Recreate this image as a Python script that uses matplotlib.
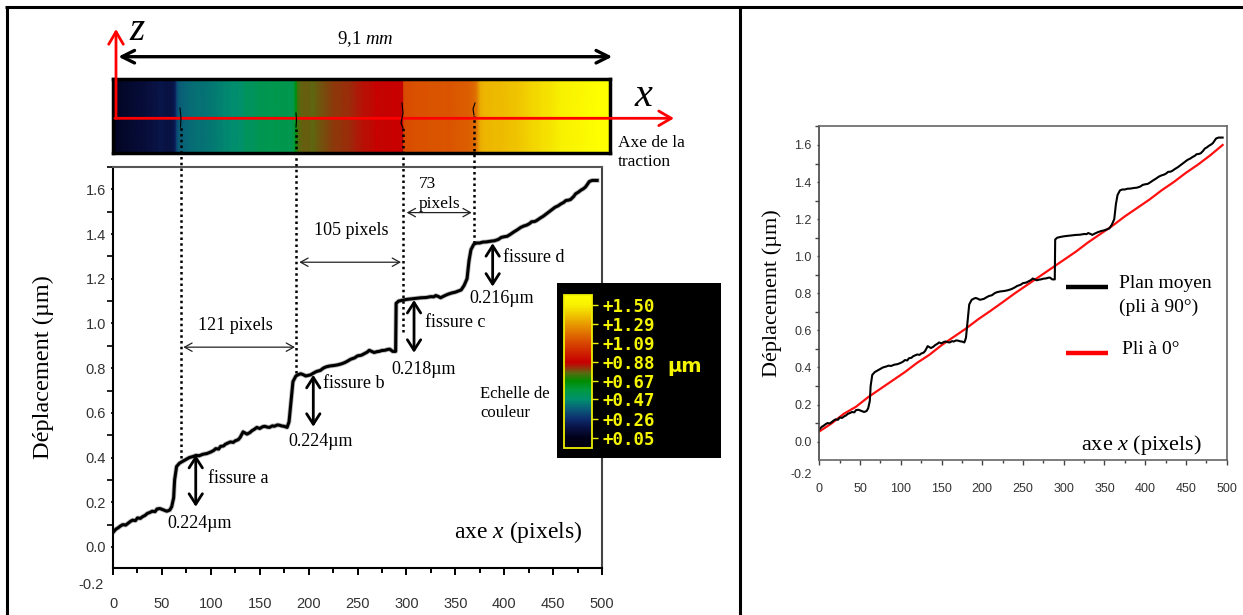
import numpy as np
import matplotlib
matplotlib.use('Agg')
import matplotlib.pyplot as plt
from matplotlib.colors import LinearSegmentedColormap, Normalize
from matplotlib.patches import FancyArrowPatch, Rectangle
from matplotlib.transforms import blended_transform_factory
from matplotlib.ticker import MultipleLocator
from matplotlib.cm import ScalarMappable

# ---------------- data ----------------
# mean displacement profile along x (pixels) -- "Plan moyen (pli à 90°)"
pos_x = [0, 3, 5, 8, 10, 13, 15, 18, 20, 23, 25, 28, 30, 33, 35, 38, 40, 43, 45, 48,
         52, 55, 58, 60, 62, 63, 65, 68, 72, 75, 78, 82, 85, 88, 92, 96, 100, 103,
         105, 108, 110, 113, 115, 118, 120, 123, 125, 128, 130, 133, 137, 140, 142,
         145, 147, 150, 153, 155, 158, 160, 163, 165, 168, 170, 173, 175, 178, 180,
         182, 184, 187, 190, 192, 195, 197, 200, 202, 205, 208, 212, 215, 218, 222,
         226, 230, 234, 237, 240, 243, 247, 250, 254, 257, 260, 262, 265, 267, 270,
         272, 275, 278, 281, 283, 286, 289, 289.5, 292, 297, 301, 305, 310, 315, 320,
         325, 328, 330, 333, 335, 338, 342, 346, 350, 353, 356, 359, 362, 364, 366,
         369, 372, 375, 378, 382, 386, 390, 394, 397, 400, 403, 406, 410, 413, 417,
         420, 423, 426, 428, 431, 433, 437, 440, 443, 446, 449, 452, 455, 458, 461,
         463, 466, 468, 471, 473, 476, 478, 481, 483, 485, 487, 490, 495]
pos_y = [0.065, 0.080, 0.085, 0.095, 0.100, 0.098, 0.105, 0.115, 0.120, 0.118, 0.130,
         0.128, 0.135, 0.142, 0.150, 0.155, 0.160, 0.158, 0.170, 0.172, 0.165, 0.160,
         0.165, 0.180, 0.220, 0.300, 0.360, 0.375, 0.385, 0.392, 0.400, 0.405, 0.410,
         0.408, 0.415, 0.418, 0.425, 0.432, 0.440, 0.438, 0.450, 0.452, 0.460, 0.466,
         0.470, 0.468, 0.475, 0.480, 0.490, 0.515, 0.505, 0.512, 0.520, 0.528, 0.535,
         0.530, 0.538, 0.540, 0.536, 0.535, 0.542, 0.540, 0.546, 0.545, 0.541, 0.540,
         0.535, 0.560, 0.650, 0.740, 0.765, 0.772, 0.775, 0.770, 0.765, 0.768, 0.770,
         0.778, 0.785, 0.790, 0.800, 0.806, 0.810, 0.812, 0.815, 0.820, 0.825, 0.832,
         0.840, 0.846, 0.855, 0.858, 0.865, 0.872, 0.880, 0.874, 0.870, 0.874, 0.875,
         0.879, 0.880, 0.884, 0.885, 0.875, 0.875, 1.090, 1.100, 1.105, 1.108, 1.110,
         1.112, 1.115, 1.116, 1.120, 1.119, 1.125, 1.120, 1.115, 1.122, 1.130, 1.136,
         1.140, 1.145, 1.150, 1.170, 1.200, 1.280, 1.330, 1.355, 1.360, 1.360, 1.364,
         1.365, 1.368, 1.370, 1.376, 1.385, 1.388, 1.390, 1.398, 1.410, 1.418, 1.430,
         1.436, 1.440, 1.447, 1.455, 1.456, 1.460, 1.472, 1.480, 1.490, 1.500, 1.510,
         1.520, 1.526, 1.535, 1.542, 1.550, 1.552, 1.555, 1.568, 1.580, 1.588, 1.595,
         1.603, 1.610, 1.622, 1.635, 1.640, 1.640]

# 0° ply displacement profile -- "Pli à 0°"
red_x = [0, 15, 30, 45, 60, 75, 90, 105, 120, 135, 150, 165, 180, 195, 210, 225, 240,
         255, 270, 285, 300, 315, 330, 345, 360, 375, 390, 405, 420, 435, 450, 465,
         480, 495]
red_y = [0.055, 0.098, 0.150, 0.188, 0.240, 0.285, 0.330, 0.375, 0.425, 0.468, 0.520,
         0.565, 0.610, 0.660, 0.705, 0.752, 0.800, 0.845, 0.890, 0.935, 0.980, 1.025,
         1.075, 1.120, 1.165, 1.215, 1.260, 1.305, 1.355, 1.400, 1.450, 1.495, 1.545,
         1.600]

crack_x = [70, 187, 297, 369.5]
crack_top = [1.88, 1.88, 1.88, 1.93]
crack_bottom = [0.40, 0.78, 0.96, 1.36]
crack_names = ['fissure a', 'fissure b', 'fissure c', 'fissure d']
jump_x = [84.6, 204.8, 307.8, 388.2]
jump_lo = [0.18, 0.538, 0.869, 1.165]
jump_hi = [0.412, 0.77, 1.105, 1.359]
jump_labels = ['0.224µm', '0.224µm', '0.218µm', '0.216µm']
gap_labels = ['121 pixels', '105 pixels']

x_ticks = [0, 50, 100, 150, 200, 250, 300, 350, 400, 450, 500]
y_ticks = [0.0, 0.2, 0.4, 0.6, 0.8, 1.0, 1.2, 1.4, 1.6]
cbar_ticks = [0.05, 0.26, 0.47, 0.67, 0.88, 1.09, 1.29, 1.50]
cbar_labels = ['+0.05', '+0.26', '+0.47', '+0.67', '+0.88', '+1.09', '+1.29', '+1.50']

# ---------------- setup ----------------
W, H = 1243, 615
SERIF = 'Liberation Serif'
SANS = 'Liberation Sans'
plt.rcParams['font.family'] = [SERIF, 'DejaVu Sans']
plt.rcParams['mathtext.fontset'] = 'custom'
plt.rcParams['mathtext.rm'] = 'Liberation Serif'
plt.rcParams['mathtext.it'] = 'Liberation Serif:italic'
fig = plt.figure(figsize=(W / 100, H / 100), dpi=100, facecolor='white')


def rect(x0, y0, x1, y1):
    return [x0 / W, 1 - y1 / H, (x1 - x0) / W, (y1 - y0) / H]


vmin, vmax = -0.06, 1.61
nodes = [(-0.06, '#000010'), (0.05, '#000018'), (0.15, '#081040'), (0.26, '#0c2e6e'),
         (0.36, '#0a5a78'), (0.47, '#00906e'), (0.57, '#009a40'), (0.67, '#008c00'),
         (0.76, '#5a6a10'), (0.84, '#b01808'), (0.88, '#c80000'), (1.00, '#d02800'),
         (1.09, '#d84800'), (1.29, '#e89800'), (1.40, '#f0c800'), (1.50, '#f8f000'),
         (1.61, '#ffff00')]
cmap = LinearSegmentedColormap.from_list(
    'disp', [((v - vmin) / (vmax - vmin), c) for v, c in nodes])
norm = Normalize(vmin, vmax)

# ---------------- colour strip ----------------
axS = fig.add_axes(rect(113.3, 79, 610, 153.3))
axS.pcolormesh(pos_x, [0, 1], np.vstack([pos_y, pos_y]), cmap=cmap, norm=norm,
               shading='gouraud')
axS.set_xlim(0, 495)
axS.set_ylim(0, 1)
axS.set_xticks([])
axS.set_yticks([])
for s in axS.spines.values():
    s.set_linewidth(2.5)
    s.set_color('black')

# ---------------- left plot ----------------
axL = fig.add_axes(rect(113, 167, 602, 568))
axL.plot(pos_x, pos_y, color='#8a8a8a', lw=3.4, alpha=0.6, solid_joinstyle='round')
axL.plot(pos_x, pos_y, color='black', lw=2.2, solid_joinstyle='round')
axL.set_xlim(0, 500)
axL.set_ylim(-0.094, 1.70)
axL.set_xticks(x_ticks)
axL.xaxis.set_minor_locator(MultipleLocator(25))
axL.set_yticks(y_ticks)
axL.set_yticklabels([f'{v:.1f}' for v in y_ticks])
axL.yaxis.set_minor_locator(MultipleLocator(0.1))
axL.tick_params(axis='x', which='major', length=5, width=1.4, pad=16, labelsize=10.5,
                labelcolor='#333333')
axL.tick_params(axis='x', which='minor', length=3.6, width=1.4)
axL.tick_params(axis='y', which='major', length=1.5, width=1.2, pad=3.5, labelsize=10.5,
                labelcolor='#333333')
axL.tick_params(axis='y', which='minor', length=4.3, width=1.2)
for lab in axL.get_xticklabels() + axL.get_yticklabels():
    lab.set_fontfamily(SANS)
axL.spines['left'].set_linewidth(1.5)
axL.spines['bottom'].set_linewidth(1.5)
axL.spines['top'].set_color('#555555')
axL.spines['right'].set_color('#444444')
axL.spines['top'].set_linewidth(1.5)
axL.spines['right'].set_linewidth(1.5)
axL.set_ylabel('Déplacement (µm)', fontsize=17.5)
axL.yaxis.set_label_coords(-0.121, 0.5)
axL.text(0.96, 0.09, 'axe $x$ (pixels)', transform=axL.transAxes, ha='right',
         va='center', fontsize=17)
trL = blended_transform_factory(axL.transAxes, axL.transData)
axL.text(-0.02, -0.17, '-0.2', transform=trL, ha='right', va='center', fontsize=10.5,
         color='#333333', family=SANS, clip_on=False)

# crack dotted lines
axL.vlines(crack_x, crack_bottom, crack_top, colors='black', linestyles=(0, (1, 1.3)),
           lw=1.8, clip_on=False, zorder=5)

# horizontal spacing arrows
gap_pairs = [(71.9, 186.1, 0.894), (190.5, 294.5, 1.274), (300.3, 366.8, 1.496)]
for (xa, xb, yy) in gap_pairs:
    axL.add_patch(FancyArrowPatch((xa, yy), (xb, yy),
                                  arrowstyle='<->,head_length=0.45,head_width=0.25',
                                  mutation_scale=12, lw=0.9, color='#222222',
                                  shrinkA=0, shrinkB=0, clip_on=False))
axL.text(124.7, 0.99, gap_labels[0], ha='center', va='center', fontsize=13)
axL.text(244, 1.415, gap_labels[1], ha='center', va='center', fontsize=13)
axL.text(322, 1.624, '73', ha='center', va='center', fontsize=12.5, clip_on=False)
axL.text(334, 1.535, 'pixels', ha='center', va='center', fontsize=12.5)

# vertical jump arrows
fis_text = [(97.1, 0.307), (215, 0.732), (319, 1.004), (399, 1.296)]
val_text = [(89, 0.106), (212.2, 0.471), (318, 0.795), (397.2, 1.113)]
for i in range(4):
    axL.add_patch(FancyArrowPatch((jump_x[i], jump_lo[i]), (jump_x[i], jump_hi[i]),
                                  arrowstyle='<->,head_length=0.5,head_width=0.32',
                                  mutation_scale=15, lw=2.0, color='black',
                                  shrinkA=0, shrinkB=0, zorder=6))
    axL.text(fis_text[i][0], fis_text[i][1], crack_names[i], ha='left', va='center',
             fontsize=13)
    axL.text(val_text[i][0], val_text[i][1], jump_labels[i], ha='center', va='center',
             fontsize=13)

# ---------------- right plot ----------------
axR = fig.add_axes(rect(819.3, 125.7, 1226.7, 460))
axR.plot(red_x, red_y, color='#ff1010', lw=1.6)
axR.plot(pos_x, pos_y, color='black', lw=1.5)
axR.set_xlim(0, 500)
axR.set_ylim(-0.099, 1.704)
axR.set_xticks(x_ticks)
axR.xaxis.set_minor_locator(MultipleLocator(25))
axR.set_yticks(y_ticks)
axR.set_yticklabels([f'{v:.1f}' for v in y_ticks])
axR.yaxis.set_minor_locator(MultipleLocator(0.1))
axR.tick_params(axis='x', which='major', length=3.6, width=1.0, pad=13, labelsize=9,
                labelcolor='#333333', color='#444444')
axR.tick_params(axis='x', which='minor', length=2.2, width=1.0, color='#444444')
axR.tick_params(axis='y', which='major', length=1.5, width=1.0, pad=4, labelsize=9,
                labelcolor='#333333', color='#444444')
axR.tick_params(axis='y', which='minor', length=3.0, width=1.0, color='#444444')
for lab in axR.get_xticklabels() + axR.get_yticklabels():
    lab.set_fontfamily(SANS)
for s in axR.spines.values():
    s.set_color('#666666')
    s.set_linewidth(1.2)
axR.spines['left'].set_color('#444444')
axR.set_ylabel('Déplacement (µm)', fontsize=16)
axR.yaxis.set_label_coords(-0.092, 0.5)
axR.text(0.94, 0.045, 'axe $x$ (pixels)', transform=axR.transAxes, ha='right',
         va='center', fontsize=16)
trR = blended_transform_factory(axR.transAxes, axR.transData)
axR.text(-0.018, -0.18, '-0.2', transform=trR, ha='right', va='center', fontsize=9,
         color='#333333', family=SANS, clip_on=False)

# ---------------- middle overlay: black box behind colour scale ----------------
ovm = fig.add_axes([0, 0, 1, 1])
ovm.set_xlim(0, W)
ovm.set_ylim(H, 0)
ovm.axis('off')
ovm.patch.set_alpha(0)
ovm.add_patch(Rectangle((556.7, 283), 164, 175.3, facecolor='black', edgecolor='none'))

# ---------------- colour scale ----------------
cax = fig.add_axes(rect(564, 295, 592, 448))
cb = fig.colorbar(ScalarMappable(norm=norm, cmap=cmap), cax=cax)
cb.outline.set_edgecolor('#f0f000')
cb.outline.set_linewidth(1.3)
cb.set_ticks(cbar_ticks)
cb.set_ticklabels(cbar_labels)
cax.tick_params(axis='y', which='both', colors='#f0f000', length=4.5, width=1.0, pad=3,
                labelsize=12.5)
cax.minorticks_off()
for lab in cax.get_yticklabels():
    lab.set_fontfamily('DejaVu Sans Mono')
    lab.set_fontweight('bold')
    lab.set_color('#f4f400')

# ---------------- top overlay ----------------
ov = fig.add_axes([0, 0, 1, 1])
ov.set_xlim(0, W)
ov.set_ylim(H, 0)
ov.axis('off')
ov.patch.set_alpha(0)

# frame
ov.plot([5, W], [7.3, 7.3], color='black', lw=2.2, solid_capstyle='butt')
ov.plot([6.7, 6.7], [6.5, H], color='black', lw=2.2, solid_capstyle='butt')
ov.plot([740, 740], [6.5, H], color='black', lw=2.2, solid_capstyle='butt')

# crack marks in the strip
ov.plot([180, 181, 180.5], [108, 118, 127], color='black', lw=0.8)
ov.plot([296, 296.5, 296], [113, 121, 127], color='black', lw=0.8)
ov.plot([402, 403, 401, 403], [103, 113, 123, 128], color='black', lw=0.8)
ov.plot([475, 473, 474], [103, 109, 115], color='black', lw=0.8)

# 9,1 mm arrow
ov.add_patch(FancyArrowPatch((118.3, 56.7), (612.3, 56.7),
                             arrowstyle='<->,head_length=0.6,head_width=0.3',
                             mutation_scale=15, lw=2.4, color='black', shrinkA=0, shrinkB=0))
ov.text(365, 44, '9,1 $mm$', ha='center', va='baseline', fontsize=13.5)

# red reference axes
ov.add_patch(FancyArrowPatch((116, 118.3), (116, 29),
                             arrowstyle='->,head_length=0.6,head_width=0.35',
                             mutation_scale=15, lw=2.0, color='#ff0000', shrinkA=0, shrinkB=0))
ov.add_patch(FancyArrowPatch((115, 118.3), (674, 118.3),
                             arrowstyle='->,head_length=0.6,head_width=0.35',
                             mutation_scale=15, lw=2.0, color='#ff0000', shrinkA=0, shrinkB=0))
ov.text(137.5, 30, '$z$', ha='center', va='center', fontsize=28)
ov.text(644, 96, '$x$', ha='center', va='center', fontsize=29)
ov.text(618, 152.5, 'Axe de la\ntraction', ha='left', va='center', fontsize=12.5,
        linespacing=1.22)

# colour scale labels
ov.text(480, 403.5, 'Echelle de\ncouleur', ha='left', va='center', fontsize=12,
        linespacing=1.25)
ov.text(667, 366, 'µm', ha='left', va='center', fontsize=14, color='#f4f400',
        fontweight='bold', family='DejaVu Sans')

# legend of right plot
ov.plot([1066, 1108], [287, 287], color='black', lw=3.2, solid_capstyle='butt')
ov.plot([1066, 1108], [353, 353], color='#ff0000', lw=3.2, solid_capstyle='butt')
ov.text(1119, 284, 'Plan moyen', ha='left', va='center', fontsize=14)
ov.text(1119, 307, '(pli à 90°)', ha='left', va='center', fontsize=14)
ov.text(1122, 350, 'Pli à 0°', ha='left', va='center', fontsize=14)

fig.savefig('out.png', dpi=100)
